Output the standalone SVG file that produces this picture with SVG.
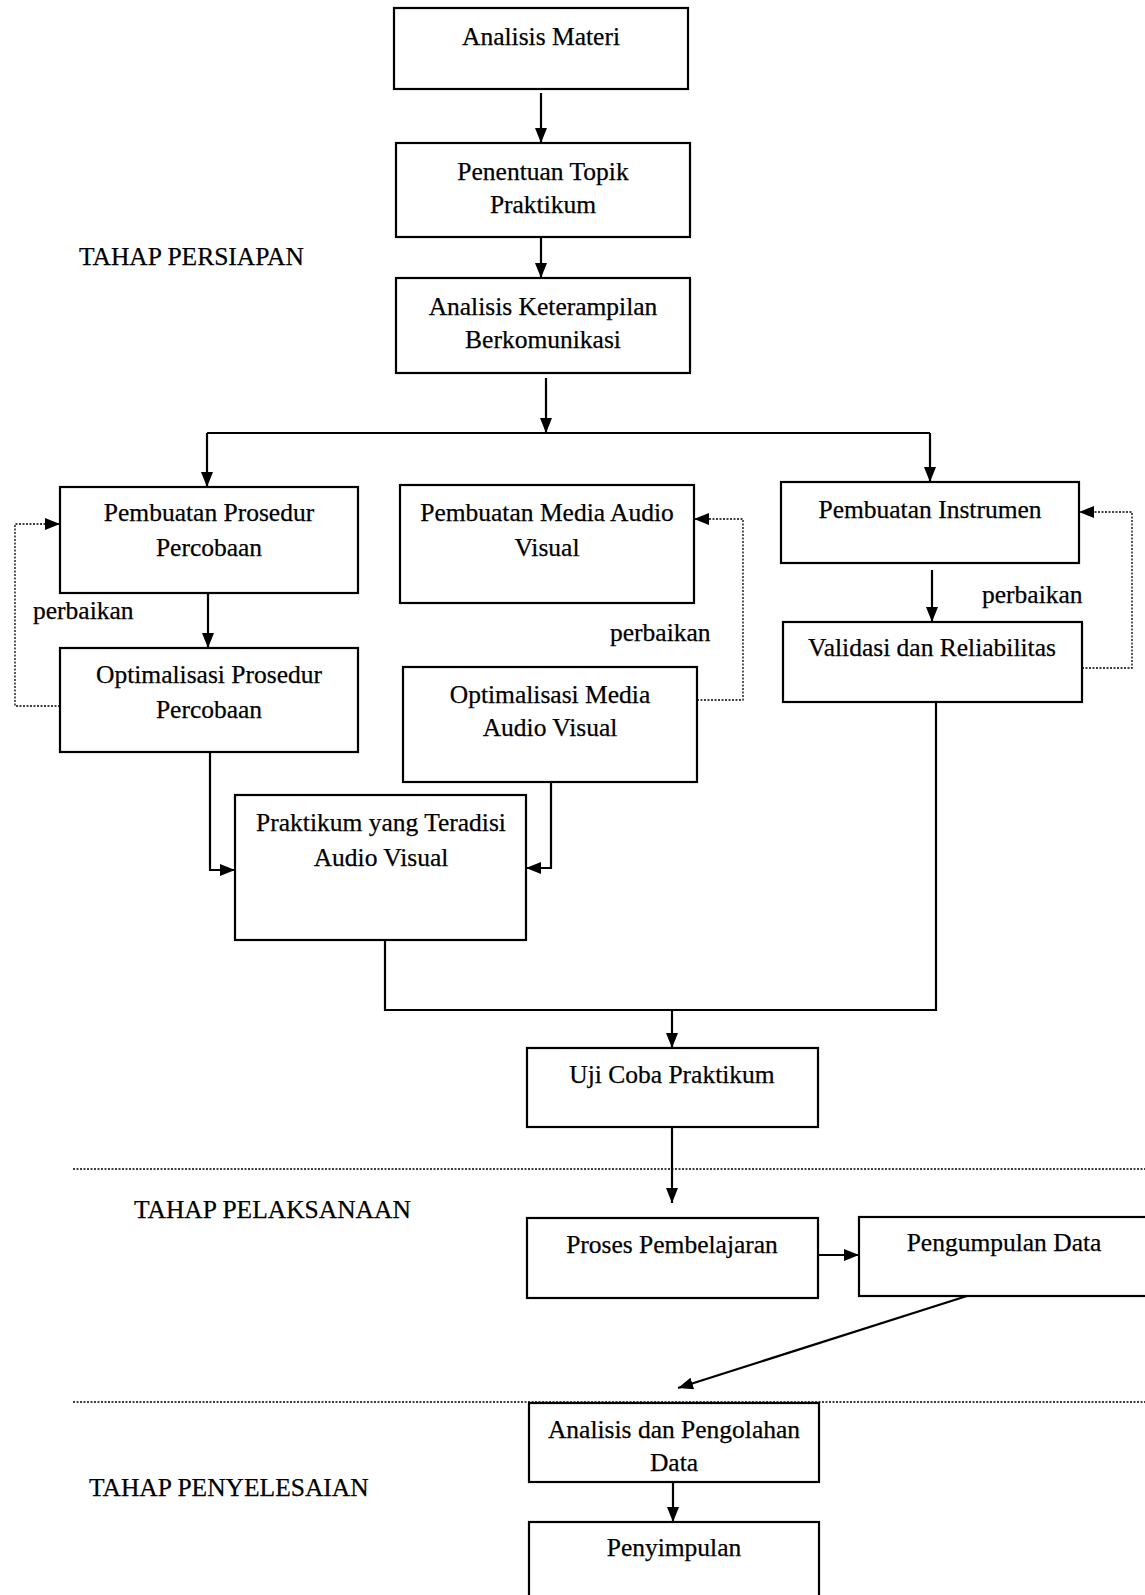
<svg xmlns="http://www.w3.org/2000/svg" width="1145" height="1595" viewBox="0 0 1145 1595">
<style>
.box{fill:#fff;stroke:#000;stroke-width:2.2}
.t{font-family:"Liberation Serif","Times New Roman",serif;font-size:25.5px;fill:#000;stroke:#000;stroke-width:0.25;text-anchor:middle}
.lbl{font-family:"Liberation Serif","Times New Roman",serif;font-size:25.5px;fill:#000;stroke:#000;stroke-width:0.25}
.c{fill:none;stroke:#000;stroke-width:2.2}
.d{fill:none;stroke:#000;stroke-width:1.3;stroke-dasharray:2 1.5}
</style>
<defs>
<marker id="ah" markerUnits="userSpaceOnUse" markerWidth="16" markerHeight="12" refX="15" refY="6" orient="auto">
<path d="M0,0 L15,6 L0,12 z" fill="#000"/>
</marker>
</defs>
<rect width="1145" height="1595" fill="#fff"/>
<g id="labels">
<text class="lbl" x="79" y="265">TAHAP PERSIAPAN</text>
<text class="lbl" x="134" y="1218">TAHAP PELAKSANAAN</text>
<text class="lbl" x="89" y="1496">TAHAP PENYELESAIAN</text>
<text class="lbl" x="33" y="619">perbaikan</text>
<text class="lbl" x="610" y="641">perbaikan</text>
<text class="lbl" x="982" y="603">perbaikan</text>
</g>
<g id="connectors">
<path class="c" d="M541 93 V143" marker-end="url(#ah)"/>
<path class="c" d="M541 237 V278" marker-end="url(#ah)"/>
<path class="c" d="M546 378 V433" marker-end="url(#ah)"/>
<path class="c" d="M207 433 H930"/>
<path class="c" d="M207 433 V487" marker-end="url(#ah)"/>
<path class="c" d="M930 433 V482" marker-end="url(#ah)"/>
<path class="c" d="M208 593 V648" marker-end="url(#ah)"/>
<path class="c" d="M932 570 V622" marker-end="url(#ah)"/>
<path class="d" d="M60 706 H15 V524 H60" marker-end="url(#ah)"/>
<path class="d" d="M697 700 H743 V519 H694" marker-end="url(#ah)"/>
<path class="d" d="M1082 668 H1132 V512 H1079" marker-end="url(#ah)"/>
<path class="c" d="M210 752 V870 H235" marker-end="url(#ah)"/>
<path class="c" d="M551 782 V868 H526" marker-end="url(#ah)"/>
<path class="c" d="M385 940 V1010 H936 V702"/>
<path class="c" d="M672 1010 V1048" marker-end="url(#ah)"/>
<path class="c" d="M672 1127 V1203" marker-end="url(#ah)"/>
<path class="c" d="M818 1255 H859" marker-end="url(#ah)"/>
<path class="c" d="M967 1296 L678 1388" marker-end="url(#ah)"/>
<path class="c" d="M673 1482 V1522" marker-end="url(#ah)"/>
<path class="d" d="M73 1169 H1145"/>
<path class="d" d="M73 1402 H1145"/>
</g>
<g id="n1"><rect class="box" x="394" y="8" width="294" height="81"/><text class="t" x="541" y="45">Analisis Materi</text></g>
<g id="n2"><rect class="box" x="396" y="143" width="294" height="94"/><text class="t" x="543" y="180">Penentuan Topik</text><text class="t" x="543" y="213">Praktikum</text></g>
<g id="n3"><rect class="box" x="396" y="278" width="294" height="95"/><text class="t" x="543" y="315">Analisis Keterampilan</text><text class="t" x="543" y="348">Berkomunikasi</text></g>
<g id="n4"><rect class="box" x="60" y="487" width="298" height="106"/><text class="t" x="209" y="521">Pembuatan Prosedur</text><text class="t" x="209" y="556">Percobaan</text></g>
<g id="n5"><rect class="box" x="400" y="485" width="294" height="118"/><text class="t" x="547" y="521">Pembuatan Media Audio</text><text class="t" x="547" y="556">Visual</text></g>
<g id="n6"><rect class="box" x="781" y="482" width="298" height="81"/><text class="t" x="930" y="518">Pembuatan Instrumen</text></g>
<g id="n7"><rect class="box" x="783" y="622" width="299" height="80"/><text class="t" x="932" y="656">Validasi dan Reliabilitas</text></g>
<g id="n8"><rect class="box" x="60" y="648" width="298" height="104"/><text class="t" x="209" y="683">Optimalisasi Prosedur</text><text class="t" x="209" y="718">Percobaan</text></g>
<g id="n9"><rect class="box" x="403" y="667" width="294" height="115"/><text class="t" x="550" y="703">Optimalisasi Media</text><text class="t" x="550" y="736">Audio Visual</text></g>
<g id="n10"><rect class="box" x="235" y="795" width="291" height="145"/><text class="t" x="381" y="831">Praktikum yang Teradisi</text><text class="t" x="381" y="866">Audio Visual</text></g>
<g id="n11"><rect class="box" x="527" y="1048" width="291" height="79"/><text class="t" x="672" y="1083">Uji Coba Praktikum</text></g>
<g id="n12"><rect class="box" x="527" y="1218" width="291" height="80"/><text class="t" x="672" y="1253">Proses Pembelajaran</text></g>
<g id="n13"><rect class="box" x="859" y="1217" width="300" height="79"/><text class="t" x="1004" y="1251">Pengumpulan Data</text></g>
<g id="n14"><rect class="box" x="529" y="1403" width="290" height="79"/><text class="t" x="674" y="1438">Analisis dan Pengolahan</text><text class="t" x="674" y="1471">Data</text></g>
<g id="n15"><rect class="box" x="529" y="1522" width="290" height="80"/><text class="t" x="674" y="1556">Penyimpulan</text></g>
</svg>
